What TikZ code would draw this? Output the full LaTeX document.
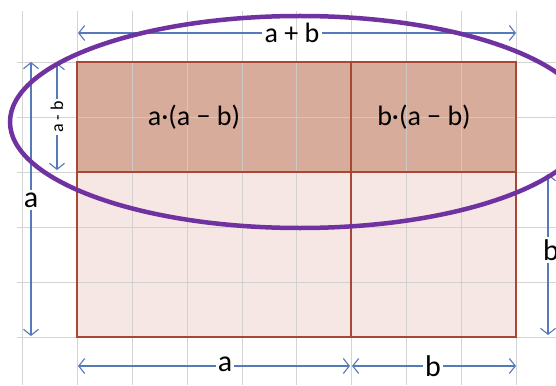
\documentclass[tikz,border=0pt]{standalone}
\usepackage{fontspec}
\setmainfont{Carlito}
\usetikzlibrary{arrows.meta}
\definecolor{gridgray}{RGB}{205,205,205}
\definecolor{darkfill}{RGB}{216,172,154}
\definecolor{lightfill}{RGB}{246,231,228}
\definecolor{rectborder}{RGB}{168,72,52}
\definecolor{dimblue}{RGB}{84,122,184}
\definecolor{ringpurple}{RGB}{112,50,160}
\tikzset{
  dim/.style={draw=dimblue, line width=1.1pt, -{Straight Barb[length=6pt,width=15pt,line width=1.1pt]}},
  gridline/.style={draw=gridgray, line width=0.9pt},
  rectline/.style={draw=rectborder, line width=1.4pt},
  biglbl/.style={font=\fontsize{30}{30}\selectfont, inner sep=2pt},
  midlbl/.style={font=\fontsize{28}{28}\selectfont, inner sep=2pt},
  smalllbl/.style={font=\fontsize{18}{18}\selectfont, inner sep=2pt},
}
\begin{document}
\begin{tikzpicture}[x=1pt,y=-1pt]
\useasboundingbox (0,0) rectangle (556,385);
\fill[white] (0,0) rectangle (556,385);
% fills
\fill[darkfill] (77,62) rectangle (516,172);
\fill[lightfill] (77,172) rectangle (516,337);
% grid
\foreach \x in {22,77,132,187,242,296,351,406,461,516}
  \draw[gridline, opacity=0.85] (\x,11) -- (\x,385);
\foreach \y in {62,117,172,227,282,337}
  \draw[gridline, opacity=0.85] (17,\y) -- (556,\y);
% rectangle borders
\draw[rectline] (77,62) rectangle (516,337);
\draw[rectline] (77,172) -- (516,172);
\draw[rectline] (351,62) -- (351,337);
% labels inside
\node[midlbl] (la) at (194,117) {a·(a − b)};
\node[midlbl] (lb) at (424,117) {b·(a − b)};
% top dimension a+b
\node[midlbl] (tab) at (292,33) {a + b};
\coordinate (tL) at (78,33);
\coordinate (tR) at (516,33);
\draw[dim] (tab) -- (tL);
\draw[dim] (tab) -- (tR);
% left outer a
\node[biglbl] (la2) at (31,200) {a};
\coordinate (lT) at (31,62);
\coordinate (lB) at (31,336);
\draw[dim] (la2) -- (lT);
\draw[dim] (la2) -- (lB);
% left inner a-b
\node[smalllbl, rotate=90] (lab) at (57,117) {a - b};
\coordinate (iT) at (57,63);
\coordinate (iB) at (57,170);
\draw[dim] (lab) -- (iT);
\draw[dim] (lab) -- (iB);
% right b
\node[biglbl] (rb) at (551,250) {b};
\coordinate (rT) at (548,174);
\coordinate (rB) at (548,335);
\draw[dim] (rb.north -| rT) -- (rT);
\draw[dim] (rb.south -| rB) -- (rB);
% bottom a
\node[biglbl] (ba) at (225,364) {a};
\coordinate (bL1) at (78,366);
\coordinate (bR1) at (350,366);
\draw[dim] (ba.west |- bL1) -- (bL1);
\draw[dim] (ba.east |- bR1) -- (bR1);
% bottom b
\node[biglbl] (bb) at (433,366) {b};
\coordinate (bL2) at (352,366);
\coordinate (bR2) at (516,366);
\draw[dim] (bb.west |- bL2) -- (bL2);
\draw[dim] (bb.east |- bR2) -- (bR2);
% purple ellipse
\coordinate (ring) at (300,122);
\draw[ringpurple, line width=4.5pt] (ring) ellipse [x radius=290, y radius=106];
\end{tikzpicture}
\end{document}
